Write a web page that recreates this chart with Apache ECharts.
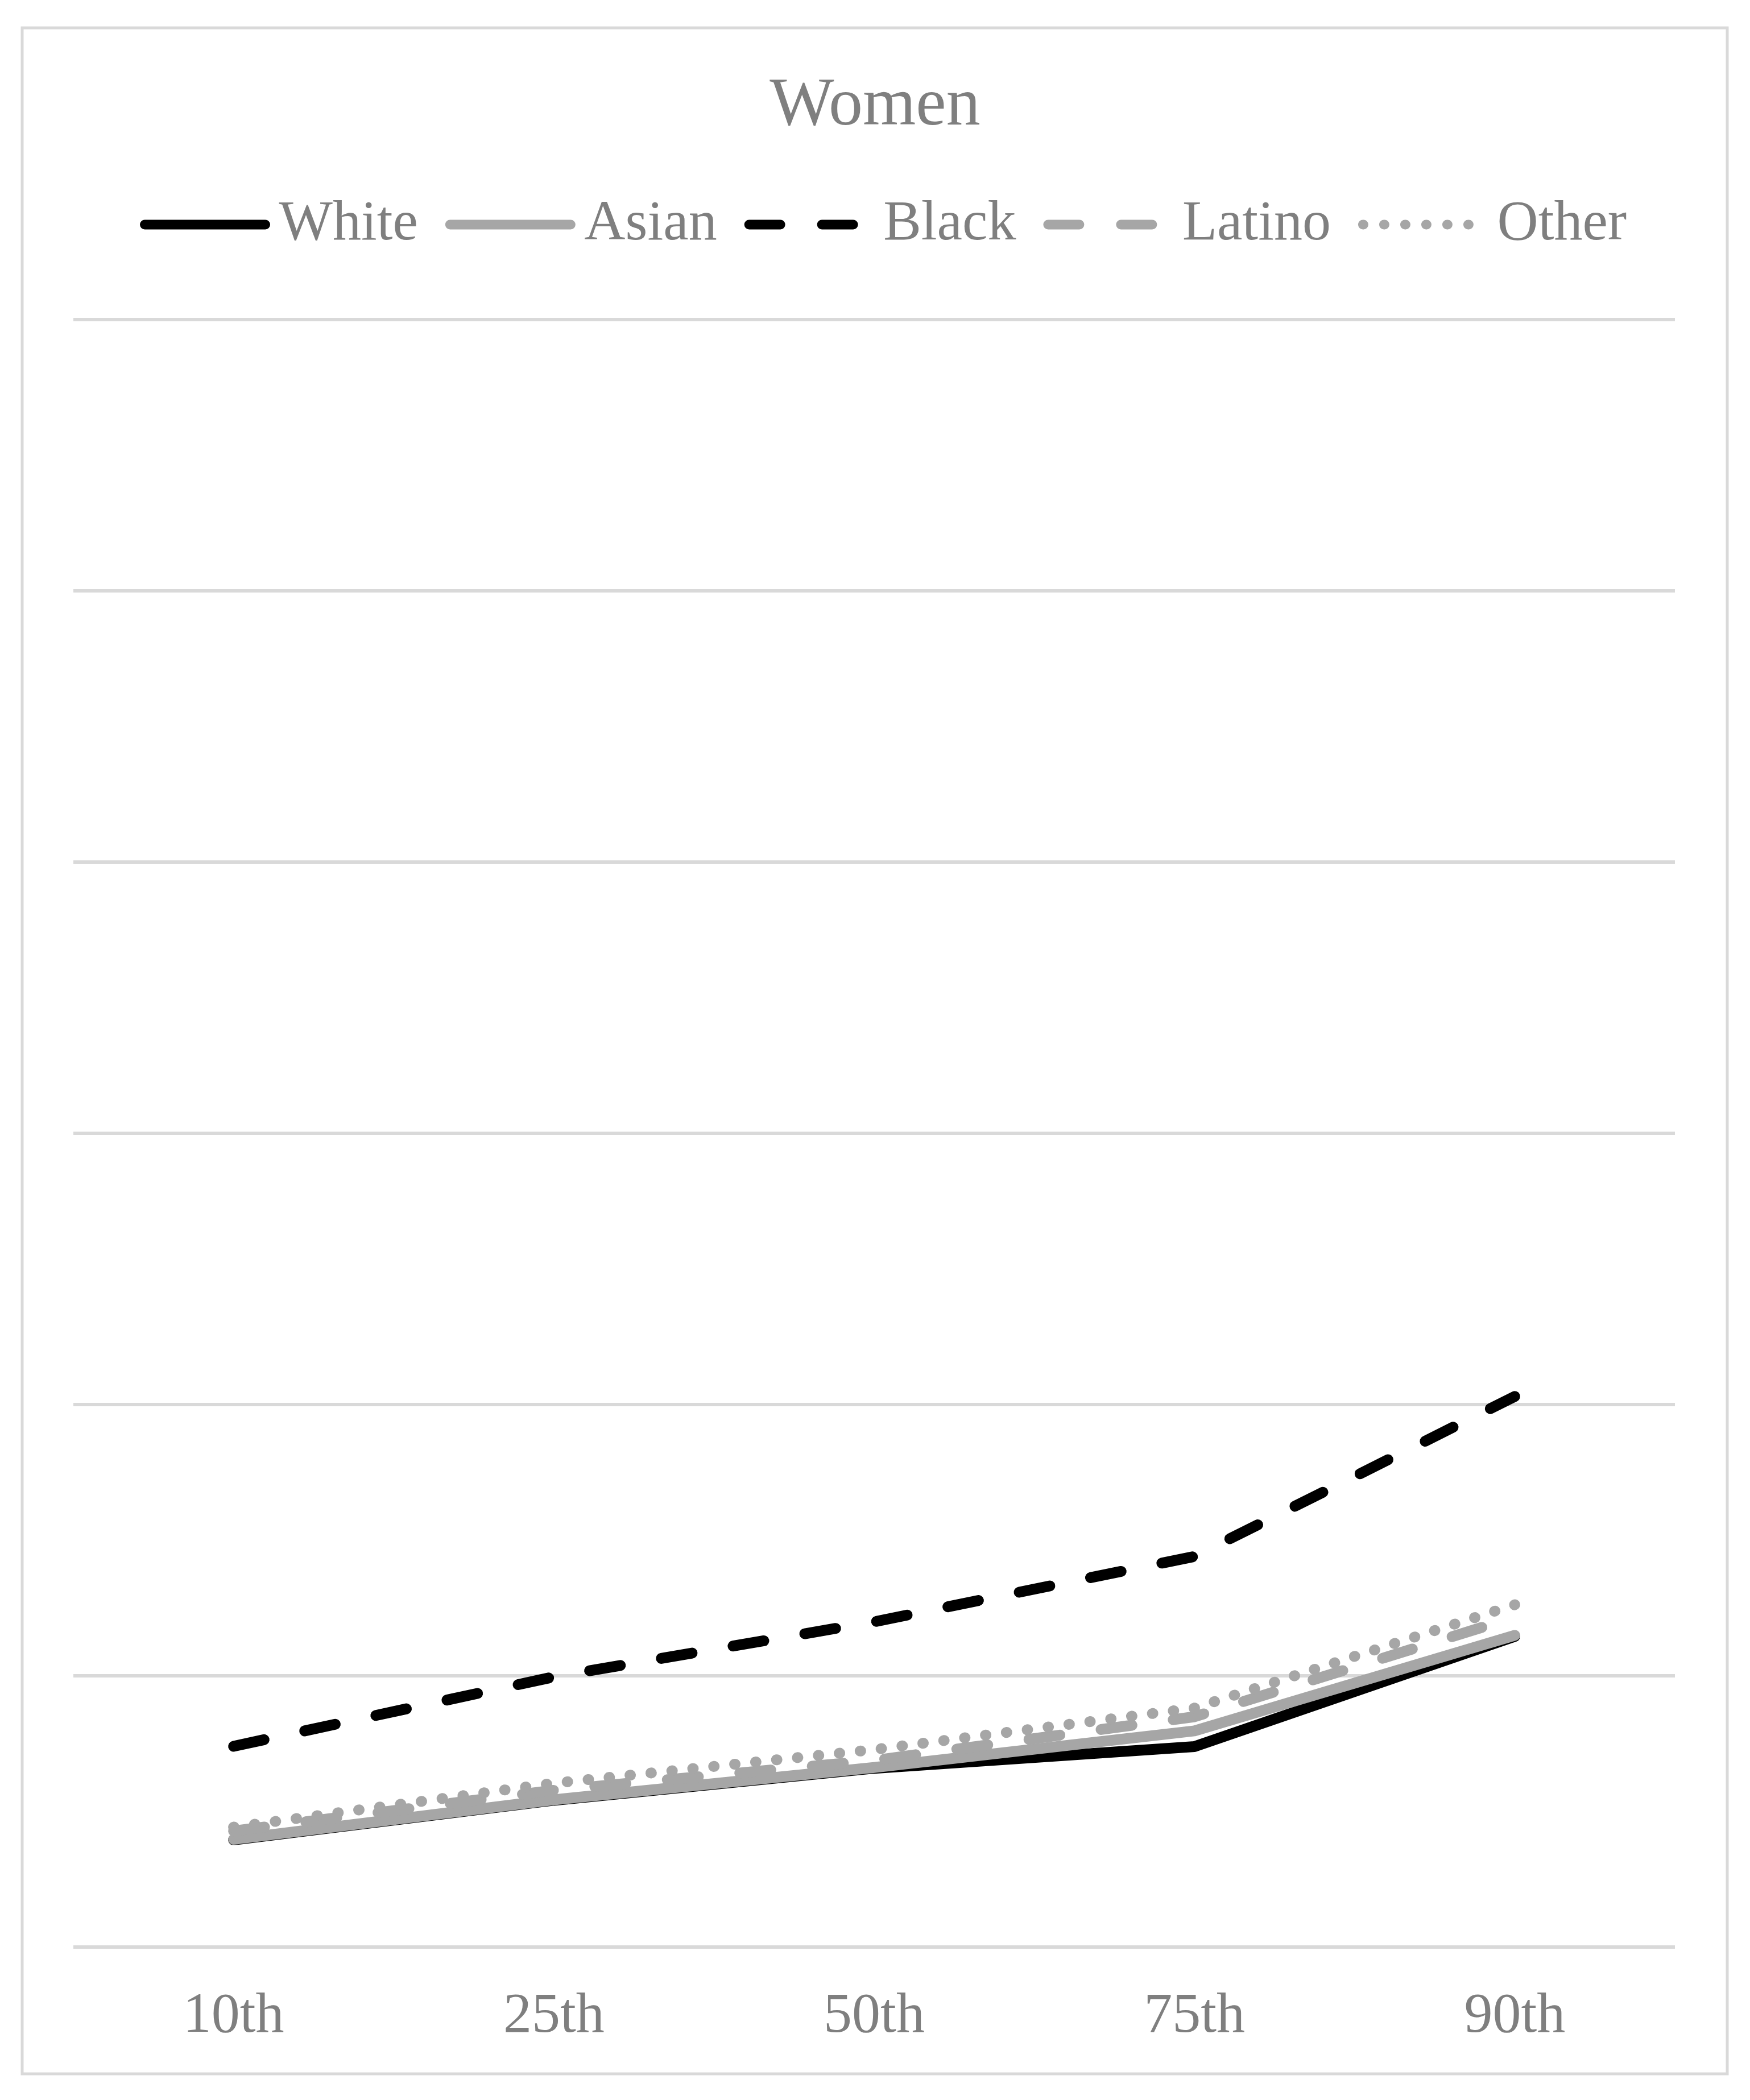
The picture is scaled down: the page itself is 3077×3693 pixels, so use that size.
<!DOCTYPE html>
<html>
<head>
<meta charset="utf-8">
<title>Women</title>
<script src="https://cdn.jsdelivr.net/npm/echarts@6/dist/echarts.min.js"></script>
<style>
  html, body { margin: 0; padding: 0; background: #fff; }
  #chart { width: 3077px; height: 3693px; }
</style>
</head>
<body>
<div id="chart"></div>
<script>
var categories = ['10th', '25th', '50th', '75th', '90th'];
var white = [0.395, 0.541, 0.659, 0.739, 1.145];
var asian = [0.397, 0.543, 0.662, 0.797, 1.149];
var black = [0.740, 0.996, 1.199, 1.440, 2.030];
var latino = [0.428, 0.578, 0.688, 0.849, 1.216];
var other = [0.442, 0.604, 0.728, 0.881, 1.262];
var legendNames = ['White', 'Asian', 'Black', 'Latino', 'Other'];

var FONT = '"Liberation Serif", "Times New Roman", serif';
var TEXT = '#7f7f7f';
var GRAY = '#a6a6a6';
var LW = 19;

function line(name, data, color, dash) {
    return {
        name: name,
        type: 'line',
        data: data,
        symbol: 'none',
        showSymbol: false,
        lineStyle: { color: color, width: LW, type: dash, cap: 'round', join: 'round' },
        itemStyle: { color: color }
    };
}

var myChart = echarts.init(document.getElementById('chart'));
myChart.setOption({
    animation: false,
    backgroundColor: '#fff',
    title: {
        text: 'Women',
        left: 'center',
        top: 127,
        padding: 0,
        textStyle: { color: TEXT, fontFamily: FONT, fontSize: 120, fontWeight: 'normal' }
    },
    legend: {
        left: 246,
        top: 345,
        padding: 0,
        itemWidth: 212,
        itemHeight: 17,
        itemGap: 48,
        // hide the centre marker, keep only the line key
        itemStyle: { opacity: 0, borderWidth: 0 },
        lineStyle: { width: 17, cap: 'round' },
        textStyle: { color: TEXT, fontFamily: FONT, fontSize: 100, padding: [0, 0, 0, 19] },
        data: legendNames
    },
    graphic: [{
        type: 'rect',
        shape: { x: 39, y: 49, width: 2998, height: 3598 },
        style: { fill: 'none', stroke: '#d9d9d9', lineWidth: 5 },
        silent: true
    }],
    grid: { left: 129, right: 132, top: 562, bottom: 269 },
    xAxis: {
        type: 'category',
        data: categories,
        boundaryGap: true,
        axisLine: { show: false },
        axisTick: { show: false },
        axisLabel: { color: TEXT, fontFamily: FONT, fontSize: 100, margin: 73 }
    },
    yAxis: {
        type: 'value',
        min: 0,
        max: 6,
        interval: 1,
        axisLabel: { show: false },
        axisLine: { show: false },
        axisTick: { show: false },
        splitLine: { lineStyle: { color: '#d9d9d9', width: 6 } }
    },
    series: [
        line('White', white, '#000000', 'solid'),
        line('Asian', asian, GRAY, 'solid'),
        line('Black', black, '#000000', [55, 73]),
        line('Latino', latino, GRAY, [55, 73]),
        line('Other', other, GRAY, [1, 36])
    ]
});
</script>
</body>
</html>
